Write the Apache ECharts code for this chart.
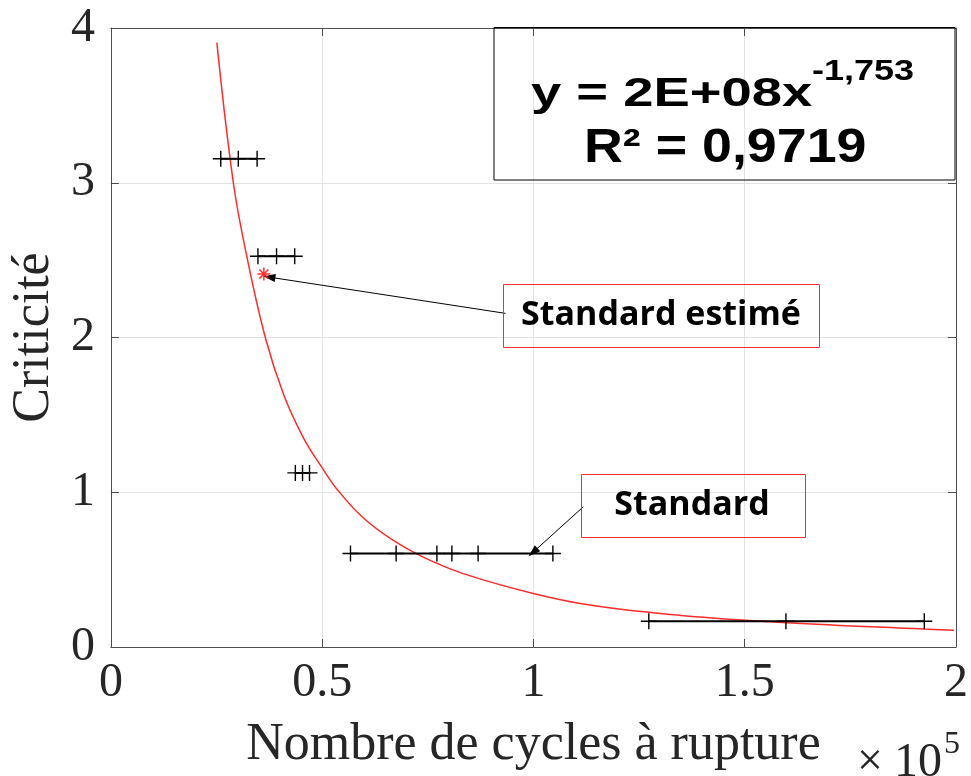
<!DOCTYPE html>
<html>
<head>
<meta charset="utf-8">
<script src="https://cdn.jsdelivr.net/npm/echarts@6/dist/echarts.min.js"></script>
<style>
html,body{margin:0;padding:0;background:#fff;}
#chart{width:971px;height:776px;}
</style>
</head>
<body>
<div id="chart"></div>
<script>
// ---- data ----
const xTickValues = [0, 50000, 100000, 150000, 200000];
const xTickLabels = ['0', '0.5', '1', '1.5', '2'];
const yTickLabels = ['0', '1', '2', '3', '4'];

// fitted power-law curve (red)
const curveCycles = [25076, 28977, 32200, 36592, 40893, 45593, 49894, 53500, 59500, 66745, 73796, 83196, 100423, 114524, 134900, 159976, 192479, 199530];
const curveCrit   = [3.905, 3.0, 2.52, 1.995, 1.63, 1.35, 1.162, 1.02, 0.84, 0.69, 0.582, 0.476, 0.343, 0.266, 0.204, 0.157, 0.116, 0.108];

// measured groups (black '+' markers joined by a line)
const g1Cycles = [26000, 30150, 34600];
const g2Cycles = [34800, 39200, 43500];
const g3Cycles = [43650, 45350, 47000];
const g4Cycles = [56700, 67500, 77150, 80700, 86900, 104600];
const g5Cycles = [127300, 159750, 192500];
const groupCrit = [3.155, 2.525, 1.125, 0.604, 0.166];

// estimated standard (red asterisk)
const estCycles = [36200];
const estCrit = [2.41];

// annotation arrows [from, to] in data units
const arrowEstime = [[93373, 2.156], [37500, 2.39]];
const arrowStandard = [[111797, 0.906], [99900, 0.612]];

// ---- chart ----
const chart = echarts.init(document.getElementById('chart'), null, {renderer: 'canvas'});
const serif = '"Liberation Serif", "Times New Roman", serif';
const axisColor = '#4d4d4d';
const textColor = '#262626';
const gridColor = '#e3e3e3';

function pair(xs, y) { return xs.map(x => [x, y]); }

const groups = [g1Cycles, g2Cycles, g3Cycles, g4Cycles, g5Cycles];
const plusPath = 'path://M0,-1L0,1M-1,0L1,0';
const starPath = 'path://M0,-1L0,1M-1,0L1,0M-0.7,-0.7L0.7,0.7M-0.7,0.7L0.7,-0.7';

function arrowMarkLine(seg) {
  return {
    silent: true, symbol: ['none', 'triangle'], symbolSize: [8, 12],
    lineStyle: {color: '#000', width: 1, type: 'solid', opacity: 1},
    itemStyle: {color: '#000'},
    label: {show: false}, emphasis: {disabled: true},
    data: [[{coord: seg[0]}, {coord: seg[1]}]]
  };
}

const series = [];
series.push({
  type: 'line', name: 'fit', xAxisIndex: 0, yAxisIndex: 0,
  data: curveCycles.map((x, i) => [x, curveCrit[i]]),
  smooth: 0.4, showSymbol: false, symbol: 'none',
  lineStyle: {color: '#ff2a2a', width: 1.5}, z: 3, silent: true
});
groups.forEach((xs, i) => {
  const s = {
    type: 'line', xAxisIndex: 0, yAxisIndex: 0,
    data: pair(xs, groupCrit[i]),
    symbol: plusPath, symbolSize: 16, showAllSymbol: true,
    lineStyle: {color: '#000', width: 2},
    itemStyle: {color: 'none', borderColor: '#000', borderWidth: 1.4},
    z: 4, silent: true
  };
  if (i === 3) s.markLine = arrowMarkLine(arrowStandard);
  series.push(s);
});
series.push({
  type: 'scatter', xAxisIndex: 0, yAxisIndex: 0,
  data: estCycles.map((x, i) => [x, estCrit[i]]),
  symbol: starPath, symbolSize: 13,
  itemStyle: {color: 'none', borderColor: '#ff0000', borderWidth: 1.5},
  z: 5, silent: true,
  markLine: arrowMarkLine(arrowEstime)
});

const option = {
  backgroundColor: '#ffffff',
  animation: false,
  grid: {left: 106, right: 14, top: 28, bottom: 128, containLabel: false},
  xAxis: [{
    type: 'value', position: 'bottom', min: 0, max: 200000, interval: 50000,
    name: 'Nombre de cycles à rupture', nameLocation: 'middle', nameGap: 72,
    nameTextStyle: {fontFamily: serif, fontSize: 52, color: textColor},
    axisLine: {show: true, onZero: false, lineStyle: {color: axisColor, width: 1}},
    axisTick: {show: true, inside: true, length: 8, lineStyle: {color: axisColor}},
    axisLabel: {
      margin: 12, fontFamily: serif, fontSize: 48, color: textColor,
      formatter: v => { const k = xTickValues.indexOf(v); return k >= 0 ? xTickLabels[k] : ''; }
    },
    splitLine: {show: true, lineStyle: {color: gridColor, width: 1}}
  }, {
    type: 'value', position: 'top', min: 0, max: 200000, interval: 50000,
    axisLine: {show: true, onZero: false, lineStyle: {color: axisColor, width: 1}},
    axisTick: {show: true, inside: true, length: 8, lineStyle: {color: axisColor}},
    axisLabel: {show: false}, splitLine: {show: false}
  }],
  yAxis: [{
    type: 'value', position: 'left', min: 0, max: 4, interval: 1,
    name: 'Criticité', nameLocation: 'middle', nameGap: 50, nameRotate: 90,
    nameTextStyle: {fontFamily: serif, fontSize: 52, color: textColor},
    axisLine: {show: true, onZero: false, lineStyle: {color: axisColor, width: 1}},
    axisTick: {show: true, inside: true, length: 8, lineStyle: {color: axisColor}},
    axisLabel: {
      margin: 16, fontFamily: serif, fontSize: 48, color: textColor,
      formatter: v => yTickLabels[Math.round(v)]
    },
    splitLine: {show: true, lineStyle: {color: gridColor, width: 1}}
  }, {
    type: 'value', position: 'right', min: 0, max: 4, interval: 1,
    axisLine: {show: true, onZero: false, lineStyle: {color: axisColor, width: 1}},
    axisTick: {show: true, inside: true, length: 8, lineStyle: {color: axisColor}},
    axisLabel: {show: false}, splitLine: {show: false}
  }],
  series: series,
  graphic: [
    // equation box
    {type: 'rect', shape: {x: 494, y: 27.5, width: 461, height: 152.5},
     style: {fill: 'none', stroke: '#000', lineWidth: 1}, z: 10, silent: true},
    {type: 'text', x: 531, y: 95, scaleX: 1.36, z: 11, silent: true,
     style: {text: 'y = 2E+08x', font: 'bold 40px "Liberation Sans", Arial, sans-serif', fill: '#000', align: 'left', verticalAlign: 'middle'}},
    {type: 'text', x: 812, y: 72, scaleX: 1.2, z: 11, silent: true,
     style: {text: '-1,753', font: 'bold 30px "Liberation Sans", Arial, sans-serif', fill: '#000', align: 'left', verticalAlign: 'middle'}},
    {type: 'text', x: 584, y: 149, scaleX: 1.12, z: 11, silent: true,
     style: {text: 'R² = 0,9719', font: 'bold 48px "Liberation Sans", Arial, sans-serif', fill: '#000', align: 'left', verticalAlign: 'middle'}},
    // "Standard estimé" box
    {type: 'rect', shape: {x: 503.5, y: 284.5, width: 316, height: 63},
     style: {fill: 'none', stroke: '#ff2a2a', lineWidth: 1}, z: 10, silent: true},
    {type: 'text', x: 661, y: 315, z: 11, silent: true,
     style: {text: 'Standard estimé', font: 'bold 34px "Open Sans", sans-serif', fill: '#000', align: 'center', verticalAlign: 'middle'}},
    // "Standard" box
    {type: 'rect', shape: {x: 581.5, y: 474.5, width: 224, height: 63},
     style: {fill: 'none', stroke: '#ff2a2a', lineWidth: 1}, z: 10, silent: true},
    {type: 'text', x: 692, y: 505, z: 11, silent: true,
     style: {text: 'Standard', font: 'bold 34px "Open Sans", sans-serif', fill: '#000', align: 'center', verticalAlign: 'middle'}},
    // x10^5 exponent
    {type: 'text', x: 857, y: 763, z: 11, silent: true,
     style: {text: '×', font: '46px "Liberation Serif", serif', fill: textColor, align: 'left', verticalAlign: 'middle'}},
    {type: 'text', x: 894, y: 763, z: 11, silent: true,
     style: {text: '10', font: '48px "Liberation Serif", serif', fill: textColor, align: 'left', verticalAlign: 'middle'}},
    {type: 'text', x: 944, y: 745, z: 11, silent: true,
     style: {text: '5', font: '32px "Liberation Serif", serif', fill: textColor, align: 'left', verticalAlign: 'middle'}}
  ]
};
chart.setOption(option);
</script>
</body>
</html>
